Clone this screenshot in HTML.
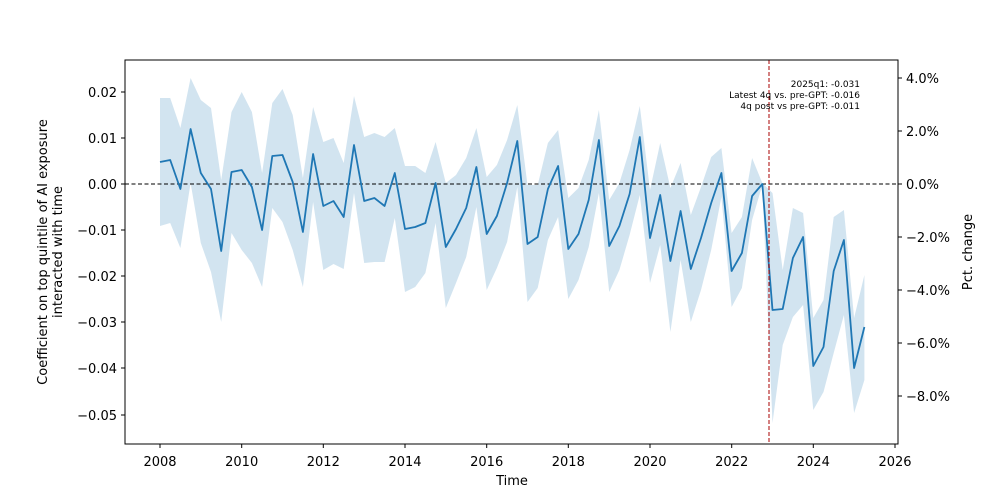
<!DOCTYPE html>
<html><head><meta charset="utf-8"><style>body{margin:0;background:#fff}svg{display:block;font-family:"DejaVu Sans","Liberation Sans",sans-serif}</style></head><body>
<svg width="1000" height="500" viewBox="0 0 1000 500" xmlns="http://www.w3.org/2000/svg">
<rect width="1000" height="500" fill="#fff"/>
<polygon id="band" fill="#1f77b4" fill-opacity="0.2" points=""/>
<line x1="125" y1="184" x2="898" y2="184" stroke="#000" stroke-width="1" stroke-dasharray="4,2.5"/>
<polyline id="line" fill="none" stroke="#1f77b4" stroke-width="1.8" stroke-linejoin="round" points=""/>
<line x1="769" y1="60" x2="769" y2="444" stroke="#a00" stroke-width="1" stroke-dasharray="4,2"/>
<rect x="125" y="60" width="773" height="384" fill="none" stroke="#000" stroke-width="1"/>
<g font-size="9" text-anchor="end" fill="#000">
<text x="860" y="87">2025q1: -0.031</text>
<text x="860" y="98">Latest 4q vs. pre-GPT: -0.016</text>
<text x="860" y="109">4q post vs pre-GPT: -0.011</text>
</g>
<g stroke="#000" stroke-width="1">
<line x1="160" y1="444" x2="160" y2="448"/><line x1="241.7" y1="444" x2="241.7" y2="448"/><line x1="323.3" y1="444" x2="323.3" y2="448"/><line x1="405" y1="444" x2="405" y2="448"/><line x1="486.7" y1="444" x2="486.7" y2="448"/><line x1="568.3" y1="444" x2="568.3" y2="448"/><line x1="650" y1="444" x2="650" y2="448"/><line x1="731.7" y1="444" x2="731.7" y2="448"/><line x1="813.3" y1="444" x2="813.3" y2="448"/><line x1="895" y1="444" x2="895" y2="448"/>
<line x1="121" y1="92" x2="125" y2="92"/><line x1="121" y1="138" x2="125" y2="138"/><line x1="121" y1="184" x2="125" y2="184"/><line x1="121" y1="230" x2="125" y2="230"/><line x1="121" y1="276" x2="125" y2="276"/><line x1="121" y1="322" x2="125" y2="322"/><line x1="121" y1="368" x2="125" y2="368"/><line x1="121" y1="415" x2="125" y2="415"/>
<line x1="898" y1="78" x2="902" y2="78"/><line x1="898" y1="131" x2="902" y2="131"/><line x1="898" y1="184" x2="902" y2="184"/><line x1="898" y1="237" x2="902" y2="237"/><line x1="898" y1="290" x2="902" y2="290"/><line x1="898" y1="343" x2="902" y2="343"/><line x1="898" y1="396" x2="902" y2="396"/>
</g>
<g font-size="13" fill="#000" text-anchor="middle">
<text x="160" y="466">2008</text><text x="241.7" y="466">2010</text><text x="323.3" y="466">2012</text><text x="405" y="466">2014</text><text x="486.7" y="466">2016</text><text x="568.3" y="466">2018</text><text x="650" y="466">2020</text><text x="731.7" y="466">2022</text><text x="813.3" y="466">2024</text><text x="895" y="466">2026</text>
</g>
<g font-size="13" fill="#000" text-anchor="end">
<text x="117" y="97">0.02</text><text x="117" y="143">0.01</text><text x="117" y="189">0.00</text><text x="117" y="235">−0.01</text><text x="117" y="281">−0.02</text><text x="117" y="327">−0.03</text><text x="117" y="373">−0.04</text><text x="117" y="420">−0.05</text>
</g>
<g font-size="13" fill="#000">
<text x="906" y="83">4.0%</text><text x="906" y="136">2.0%</text><text x="906" y="189">0.0%</text><text x="906" y="242">−2.0%</text><text x="906" y="295">−4.0%</text><text x="906" y="348">−6.0%</text><text x="906" y="401">−8.0%</text>
</g>
<text x="512" y="485" font-size="13" text-anchor="middle">Time</text>
<text transform="translate(47,252) rotate(-90)" font-size="13" text-anchor="middle">Coefficient on top quintile of AI exposure</text>
<text transform="translate(62,252) rotate(-90)" font-size="13" text-anchor="middle">interacted with time</text>
<text transform="translate(972,252) rotate(-90)" font-size="13" text-anchor="middle">Pct. change</text>
<script>
var m=[162,160,189,129,173,189,251,172,170,187,230,156,155,182,232,154,206,201,217,145,201,198,206,173,229,227,223,183,247,229,208,167,234,216,183,141,244,237,189,166,249,234,200,140,246,226,194,137,238,195,261,211,269,238,203,173,271,253,196,184,310,309,258,237,366,347,271,240,368,327];
var u=[98,98,128,78,100,108,180,112,92,112,173,103,89,115,178,107,142,138,163,96,137,133,137,128,166,166,173,142,183,175,158,128,177,165,140,105,185,185,143,130,198,188,160,110,200,183,150,106,190,143,188,163,215,187,157,148,233,217,158,183,193,270,208,213,318,300,217,210,318,275];
var l=[226,223,248,183,243,272,322,233,250,263,287,208,222,250,287,202,270,264,269,193,263,262,262,218,292,287,273,223,308,283,257,207,290,268,242,187,302,288,240,217,299,280,247,193,292,270,235,195,283,245,332,260,322,290,250,197,307,288,220,185,423,345,317,305,410,392,353,315,413,380];
function X(i){return 160+i*10.208;}
document.getElementById("line").setAttribute("points",m.map(function(v,i){return X(i).toFixed(1)+","+v}).join(" "));
var bp=u.map(function(v,i){return X(i).toFixed(1)+","+v});
for(var i=l.length-1;i>=0;i--)bp.push(X(i).toFixed(1)+","+l[i]);
document.getElementById("band").setAttribute("points",bp.join(" "));
</script>
</svg>
</body></html>
